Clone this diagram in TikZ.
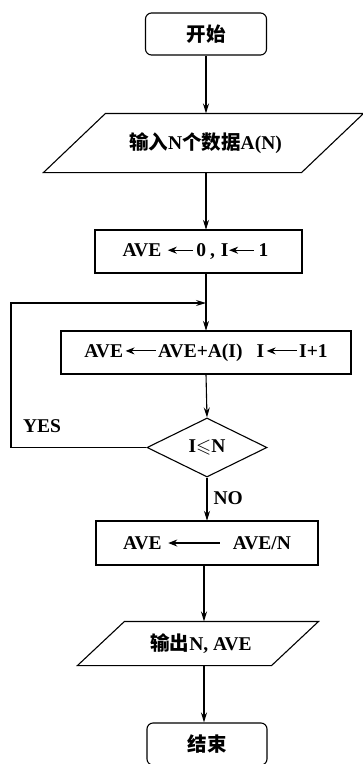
\documentclass[tikz,border=0pt]{standalone}
\usepackage{fontspec}
\usepackage{amssymb}
\setmainfont{Liberation Serif}
\newfontfamily\cjk{Noto Sans CJK SC}
\usetikzlibrary{arrows.meta,shapes.geometric}
\newcommand{\zh}[1]{{\cjk\fontsize{19.5}{22}\selectfont #1}}
\newcommand{\tarr}[1]{\tikz[baseline=-0.7ex]\draw[line width=1.1pt,{Stealth[length=9pt,width=7pt]}-](0pt,0pt)--(#1,0pt);}
\begin{document}
\begin{tikzpicture}[x=1pt,y=-1pt,line width=1.1pt,
  font=\bfseries\fontsize{19.5}{22}\selectfont,
  >={Stealth[length=10pt,width=6pt]},
  term/.style={draw,rounded corners=6pt,minimum width=121pt,minimum height=42pt,inner sep=0pt},
  proc/.style={draw,minimum height=43pt,inner sep=0pt},
  iobox/.style={inner sep=0pt},
  dec/.style={draw,diamond,inner sep=0pt,minimum width=120pt,minimum height=59pt}]
\useasboundingbox (0,0) rectangle (363,764);

\node[term] (start) at (206,34) {\zh{开始}};
\node[iobox,minimum width=319pt,minimum height=58pt] (in) at (203.5,143)
  {\hspace{4pt}\zh{输入}N\zh{个数据}A(N)};
\draw ([xshift=62pt]in.north west) -- (in.north east)
  -- ([xshift=-62pt]in.south east) -- (in.south west) -- cycle;
\node[proc,minimum width=207pt] (b1) at (198.5,251.5)
  {\hspace{-6pt}AVE\hspace{6pt}\tarr{25pt}\hspace{3pt}0\hspace{4pt},\hspace{6pt}I\tarr{25pt}\hspace{4pt}1};
\coordinate (jn) at (206,303);
\node[proc,minimum width=290pt] (b2) at (206,352.5)
  {AVE\hspace{2pt}\tarr{30pt}\hspace{2pt}AVE+A(I)\hspace{14pt}I\hspace{2pt}\tarr{30pt}\hspace{2pt}I+1};
\node[dec] (dec) at (207,447.5) {I$\leqslant$N};
\node[proc,minimum width=222pt,minimum height=44pt] (b3) at (207,543)
  {AVE\hspace{6pt}\tarr{52pt}\hspace{12pt}AVE/N};
\node[iobox,minimum width=240pt,minimum height=43pt] (out) at (198,643.5)
  {\hspace{6pt}\zh{输出}N, AVE};
\draw ([xshift=47pt]out.north west) -- (out.north east)
  -- ([xshift=-47pt]out.south east) -- (out.south west) -- cycle;
\node[term,minimum width=120pt] (end) at (207,744) {\zh{结束}};
\coordinate (lp) at (11,303);
\node (yes) at (42,426) {YES};
\node[anchor=west,inner sep=0pt] (no) at (213,498) {NO};

\draw[->] (start.south) -- (start.south |- in.north);
\draw[->] (start.south |- in.south) -- (start.south |- b1.north);
\draw[->] (jn |- b1.south) -- (jn |- b2.north);
\draw[->] (dec.west) -| (lp) -- (jn);
\draw[->] (jn |- b2.south) -- (dec.north);
\draw[->] (dec.south) -- (dec.south |- b3.north);
\draw[->] ([xshift=-3pt]b3.south) -- ([xshift=-3pt]b3.south |- out.north);
\draw[->] ([xshift=-3pt]b3.south |- out.south) -- ([xshift=-3pt]b3.south |- end.north);
\end{tikzpicture}
\end{document}
